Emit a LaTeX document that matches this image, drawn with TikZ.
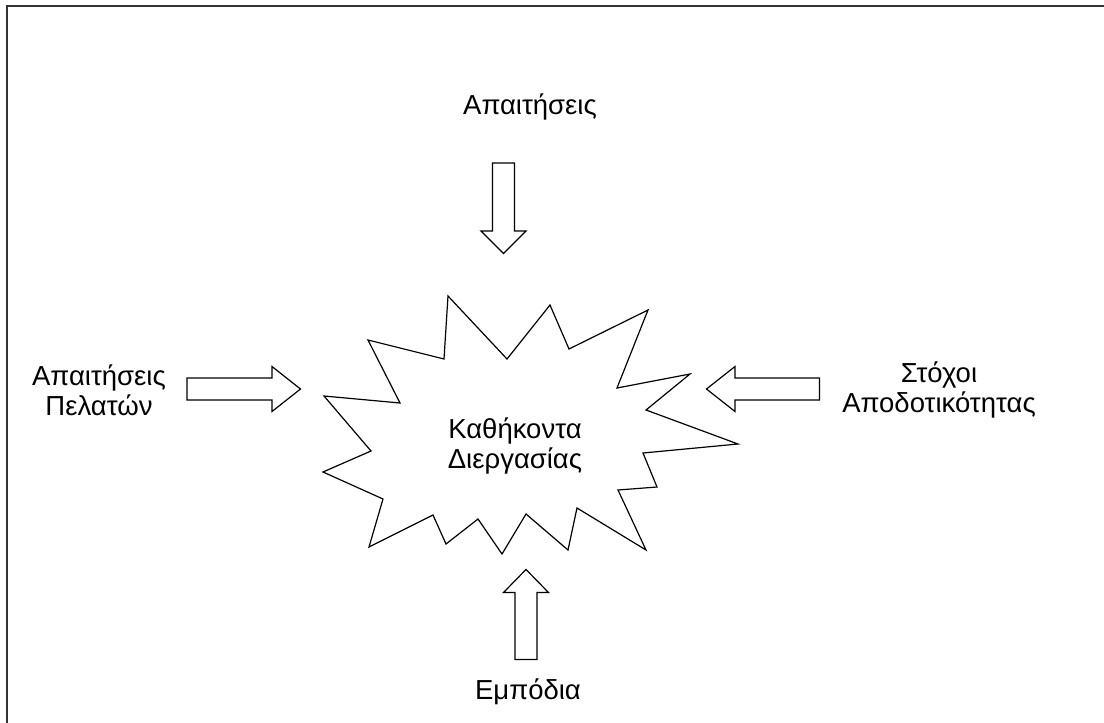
\documentclass[tikz,border=0pt]{standalone}
\usepackage{fontspec}
\setmainfont{Liberation Sans}
\begin{document}
\begin{tikzpicture}[x=1pt,y=-1pt,
  outline/.style={draw=black,line width=1.2pt,line join=miter,fill=white},
  label/.style={font=\fontsize{27.5}{30}\selectfont,align=center,inner sep=0pt},
  frame/.style={draw=black!80,line width=2pt}]
\useasboundingbox (0,0) rectangle (1104,723);
% page frame (left and top edges)
\draw[frame] (7,723) -- (7,6) -- (1104,6);

% burst shape
\draw[outline] (448,296) -- (507,359) -- (550,305) -- (569,349) -- (648,310)
  -- (617,388) -- (690,374) -- (646,410) -- (738,444) -- (643,453)
  -- (657,487) -- (618,490) -- (646,550) -- (577,508) -- (568,550)
  -- (526,514) -- (502,554) -- (478,519) -- (446,544) -- (433,515)
  -- (369,547) -- (383,499) -- (323,472) -- (371,451) -- (324,396)
  -- (400,403) -- (368,340) -- (444,359) -- cycle;
\node[label] (task) at (515,446) {Καθήκοντα\\Διεργασίας};

% block arrows
\draw[outline] (492.5,163) -- (514.5,163) -- (514.5,231) -- (526,231)
  -- (503.5,253.5) -- (481,231) -- (492.5,231) -- cycle;
\draw[outline] (187,378) -- (272,378) -- (272,366.5) -- (300.5,389)
  -- (272,411.5) -- (272,400) -- (187,400) -- cycle;
\draw[outline] (819.5,378) -- (735,378) -- (735,366.5) -- (706.5,389)
  -- (735,411.5) -- (735,400) -- (819.5,400) -- cycle;
\draw[outline] (515,659.5) -- (515,592.5) -- (503.5,592.5) -- (526,569.5)
  -- (548.5,592.5) -- (537,592.5) -- (537,659.5) -- cycle;

% labels
\node[label] (req) at (530,107) {Απαιτήσεις};
\node[label] (cust) at (99,390) {Απαιτήσεις\\Πελατών};
\node[label] (perf) at (939,390) {Στόχοι\\Αποδοτικότητας};
\node[label] (obst) at (528,692) {Εμπόδια};
\end{tikzpicture}
\end{document}
